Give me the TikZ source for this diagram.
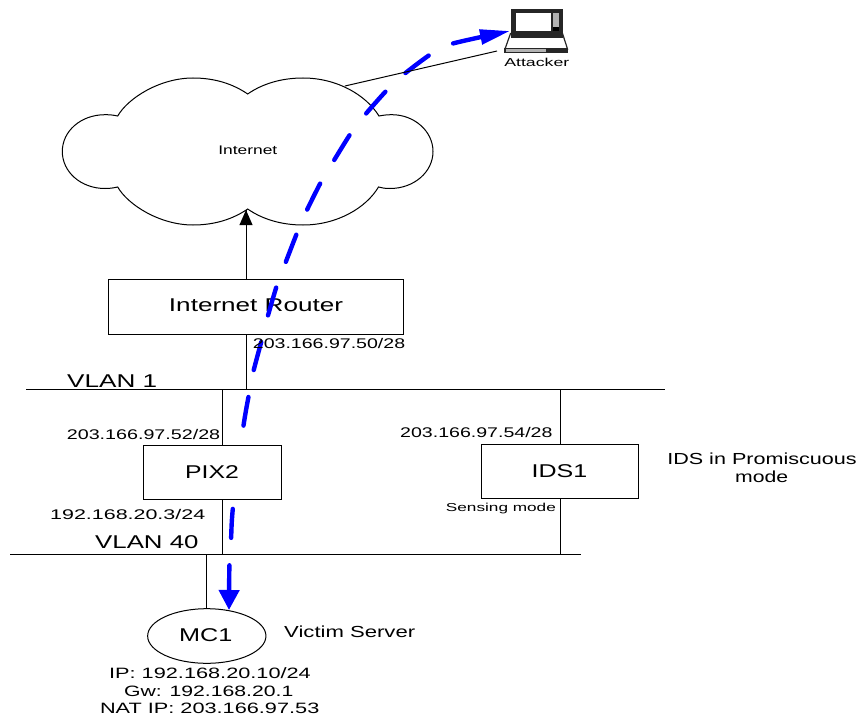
\documentclass[tikz,border=0pt]{standalone}
\usepackage{fontspec}
\usepackage{graphicx}
\setmainfont{Liberation Sans}
\usetikzlibrary{arrows.meta,shapes.geometric}
\tikzset{
  wire/.style={draw=black,line width=1pt},
  boxn/.style={draw=black,line width=1pt,fill=white,inner sep=0pt,minimum height=54.7pt},
  lbl/.style={inner sep=0pt,text=black,align=center},
  attack/.style={draw=blue,line width=4.4pt,line cap=round,dash pattern=on 29pt off 27.5pt,dash phase=3.2pt,
    {Triangle[length=20pt,width=20pt]}-{Triangle[length=30pt,width=14.5pt]}}
}
% \fw{target width}{font size}{text}
\newcommand{\fw}[3]{\resizebox{#1pt}{\height}{\fontsize{#2}{#2}\selectfont #3}}
\begin{document}
\begin{tikzpicture}[x=1pt,y=-1pt]
\useasboundingbox (0,0) rectangle (858,722);
\fill[white] (0,0) rectangle (858,722);
% cloud
\draw[line width=1pt,fill=white] (117.7,116)
  .. controls (128,98) and (160,78) .. (193,78)
  .. controls (215,78) and (233,84) .. (247.7,94)
  .. controls (262,84) and (281,78) .. (303,78)
  .. controls (337,78) and (366,95) .. (379,116)
  .. controls (384,115) and (388,114.7) .. (392,114.7)
  .. controls (414,114.7) and (433,131) .. (433,151.5)
  .. controls (433,172) and (414,188.5) .. (390,188.5)
  .. controls (385,188.5) and (382,188) .. (378.5,187)
  .. controls (366,208) and (337,225) .. (303,225)
  .. controls (281,225) and (262,219) .. (247.7,209)
  .. controls (233,219) and (215,225) .. (193,225)
  .. controls (160,225) and (128,205) .. (117.7,187)
  .. controls (113,188) and (110,188.5) .. (105,188.5)
  .. controls (81,188.5) and (62.3,172) .. (62.3,151.5)
  .. controls (62.3,131) and (81,114.7) .. (105,114.7)
  .. controls (110,114.7) and (113,115) .. (117.7,116) -- cycle;
\coordinate (cloudnotch) at (246,210);
\coordinate (cloudedge) at (345,86);
\coordinate (lapport) at (497,51);
\coordinate (pixx) at (222,0);
\node[lbl] (inet) at (247.8,150.3) {\fw{59}{12.5}{Internet}};
% boxes
\node[boxn,minimum width=295pt] (router) at (255.8,306.7) {};
\node[lbl] (routert) at (256,305.5) {\fw{174}{18.5}{Internet Router}};
% buses
\coordinate (v1l) at (26,389);
\coordinate (v1r) at (665,389);
\coordinate (v40l) at (10,554);
\coordinate (v40r) at (581,554);
\draw[wire] (v1l) -- (v1r);
\draw[wire] (v40l) -- (v40r);
% attack path (passes behind PIX2)
\coordinate (atkb) at (229,610);
\coordinate (atkt) at (510,31);
\draw[attack] plot[smooth,tension=.5] coordinates {(atkb) (229.5,563) (231,540) (233,507) (243,429) (249,394) (253,373) (262,339) (267,319) (277,285) (285,264) (297,233) (306,212) (321,182) (333,162) (351,133) (364,116) (387,90) (403,75) (431,54) (451,44) (atkt)};
\node[boxn,minimum width=137.6pt] (pix) at (212.2,472.6) {};
\node[lbl] (pixt) at (212,471.7) {\fw{53.7}{18.5}{PIX2}};
\node[boxn,minimum width=157pt] (ids) at (560.2,471.4) {};
\node[lbl] (idst) at (559.5,470.7) {\fw{55.6}{18.5}{IDS1}};
\node[draw=black,line width=1pt,ellipse,fill=white,minimum width=118.3pt,minimum height=54.6pt,inner sep=0pt] (mc) at (206.8,636) {};
\node[lbl] (mct) at (205.7,635) {\fw{53.3}{18.5}{MC1}};
% connectors
\draw[wire] (router.north -| cloudnotch) -- (cloudnotch);
\fill (cloudnotch) -- ++(-6.6,15) -- ++(13.2,0) -- cycle;
\draw[wire] (router.south -| cloudnotch) -- (v1l -| cloudnotch);
\draw[wire] (v1l -| pixx) -- (pix.north -| pixx);
\draw[wire] (pix.south -| pixx) -- (v40l -| pixx);
\draw[wire] (v1l -| ids.north) -- (ids.north);
\draw[wire] (ids.south) -- (v40l -| ids.south);
\draw[wire] (v40l -| mc.north) -- (mc.north);
% laptop
\node[inner sep=0pt,minimum width=64pt,minimum height=45pt] (lap) at (537,29) {};
\begin{scope}
\fill[black!85] (510.5,9) rectangle (562.5,33);
\fill[white] (516,13.3) rectangle (551,31);
\fill[gray!60] (553.3,13.5) rectangle (559.3,27);
\fill[black] (553.3,27) rectangle (559.3,31);
\draw[black!85,line width=1.2pt,fill=white] (510.5,33.5) -- (562.5,33.5) -- (567.5,49) -- (505,49) -- cycle;
\fill[black!85] (510.5,33) rectangle (562.5,38);
\fill[black!85] (504,48) rectangle (568.3,53);
\fill[gray!60] (505.5,49.5) rectangle (546,51.8);
\end{scope}
\draw[wire] (cloudedge) -- (lapport);
\node[lbl] (attt) at (536.8,62.3) {\fw{65}{11.5}{Attacker}};
% labels
\node[lbl,anchor=west] (a1) at (252.7,343) {\fw{152.3}{14}{203.166.97.50/28}};
\node[lbl,anchor=west] (a2) at (66.7,434) {\fw{153.3}{14}{203.166.97.52/28}};
\node[lbl,anchor=west] (a3) at (400,432.3) {\fw{152.3}{14}{203.166.97.54/28}};
\node[lbl,anchor=west] (a4) at (50,514.3) {\fw{155}{14}{192.168.20.3/24}};
\node[lbl,anchor=west] (a5) at (445.7,509) {\fw{110}{11.5}{Sensing mode}};
\node[lbl,anchor=west] (v1) at (67,381) {\fw{90}{18.5}{VLAN 1}};
\node[lbl,anchor=west] (v40) at (95,541.7) {\fw{103.3}{18.5}{VLAN 40}};
\node[lbl] (prom) at (762,459) {\fw{189.4}{16}{IDS in Promiscuous}};
\node[lbl] (promb) at (761.7,477) {\fw{53}{16}{mode}};
\node[lbl,anchor=west] (vict) at (284,632) {\fw{131}{16}{Victim Server}};
\node[lbl] (ip) at (210,672.7) {\fw{201.7}{15}{IP: 192.168.20.10/24}};
\node[lbl] (gw) at (208.7,691) {\fw{169.3}{15}{Gw: 192.168.20.1}};
\node[lbl] (nat) at (209.7,708.3) {\fw{219.3}{15}{NAT IP: 203.166.97.53}};
\end{tikzpicture}
\end{document}
